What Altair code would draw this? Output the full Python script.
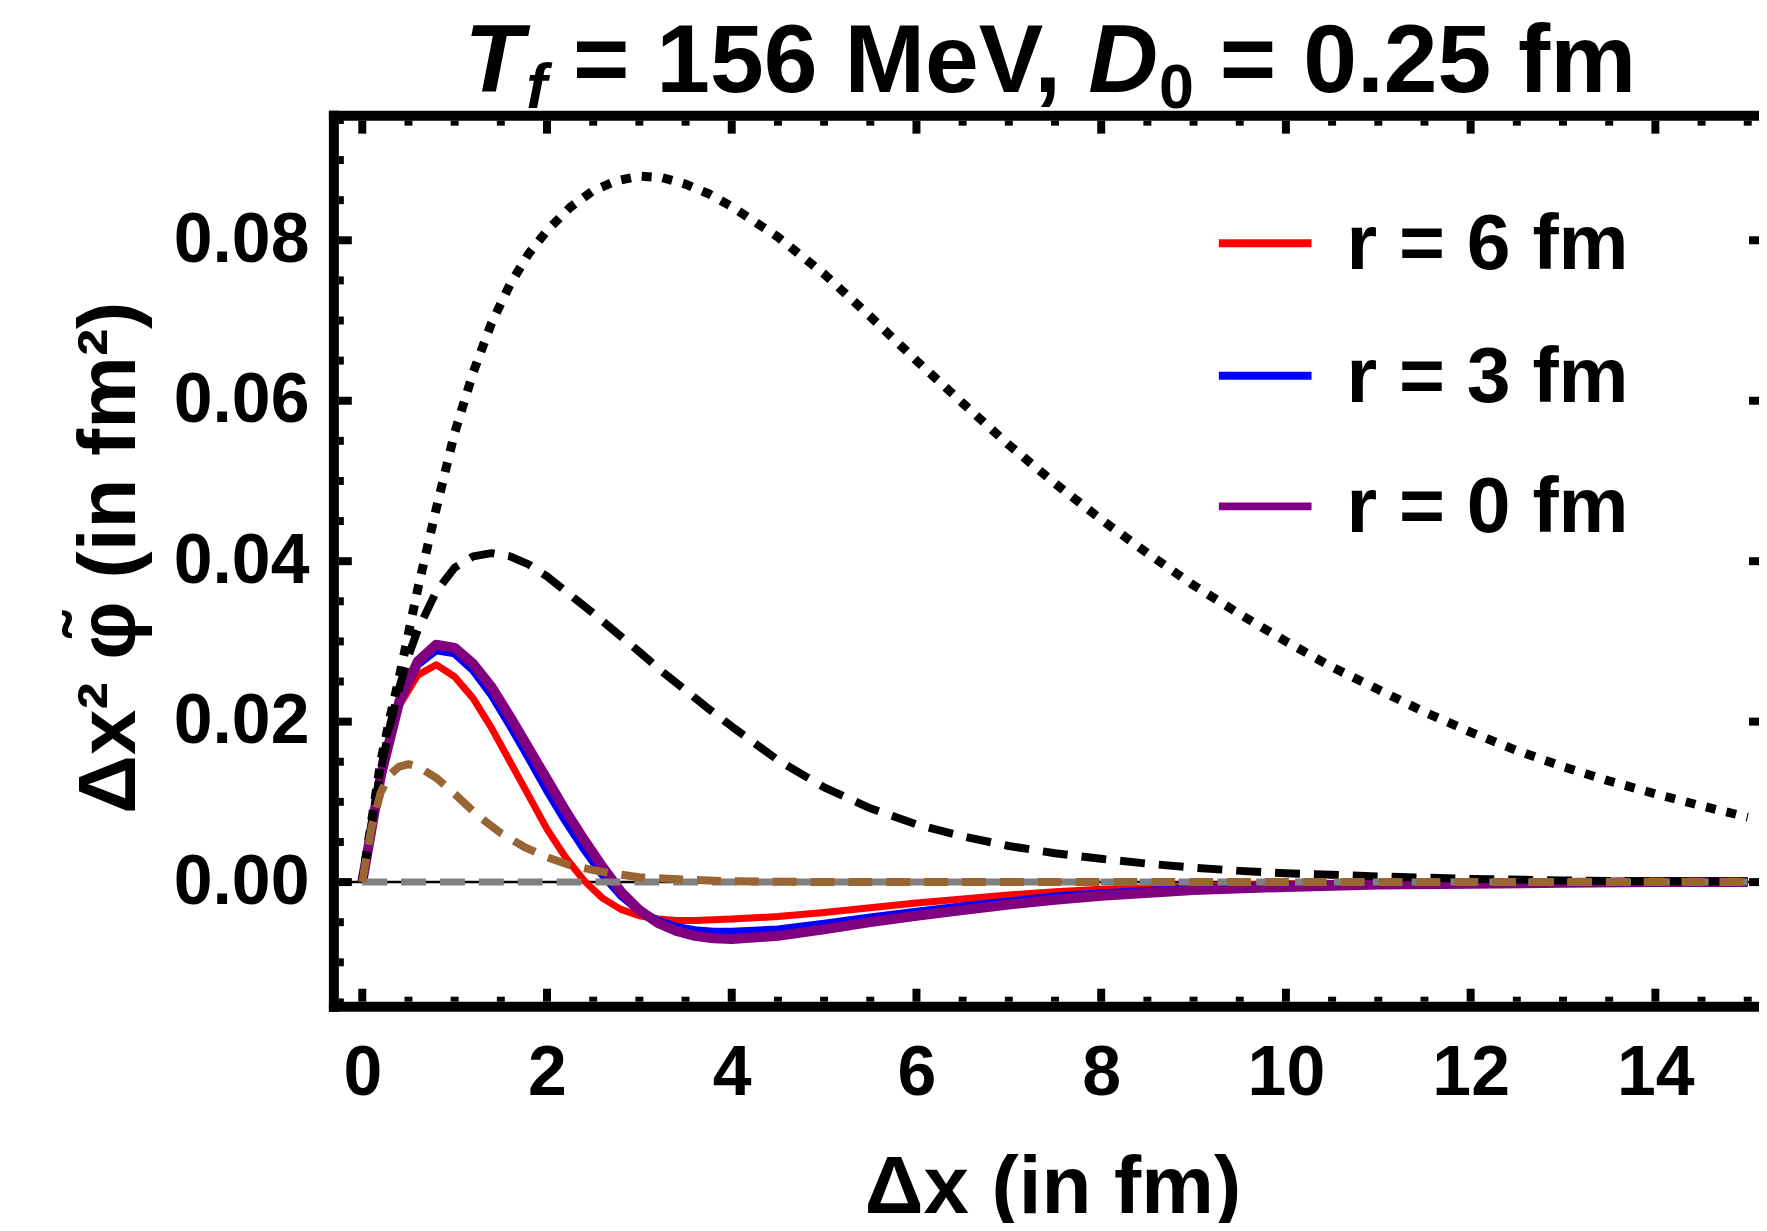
import altair as alt
import pandas as pd

# ---------------- data ----------------
x_col = [0, 0.2, 0.4, 0.6, 0.8, 1.0, 1.2, 1.4, 1.6, 1.8, 2.0, 2.2, 2.4, 2.6, 2.8, 3.0,
         3.2, 3.4, 3.6, 3.8, 4.0, 4.5, 5.0, 5.5, 6.0, 6.5, 7.0, 7.5, 8.0, 9, 10, 11, 12, 13, 14, 15]
y_r6 = [0, .0130, .0220, .0258, .0271, .0256, .0229, .0192, .0150, .0108, .0066, .0031, .0002,
        -.0020, -.0034, -.0042, -.0046, -.0048, -.0048, -.0047, -.0046, -.0043, -.0038, -.0032,
        -.0026, -.0021, -.0016, -.0012, -.0009, -.0005, -.0002, -.0001, 0, 0, 0, 0]
y_r3 = [0, .0132, .0225, .0271, .0289, .0285, .0264, .0233, .0195, .0155, .0114, .0076, .0041,
        .0009, -.0017, -.0036, -.0048, -.0056, -.0060, -.0062, -.0062, -.0059, -.0052, -.0044,
        -.0037, -.0030, -.0024, -.0018, -.0014, -.0008, -.0004, -.0002, -.0001, 0, 0, 0]
y_r0 = [0, .0132, .0225, .0275, .0296, .0292, .0272, .0243, .0206, .0167, .0128, .0089, .0053,
        .0019, -.0012, -.0035, -.0051, -.0061, -.0067, -.0070, -.0071, -.0067, -.0059, -.0050,
        -.0042, -.0035, -.0028, -.0022, -.0017, -.0010, -.0006, -.0003, -.0002, -.0001, 0, 0]

x_dot = [0, .1, .2, .3, .4, .5, .6, .8, 1.0, 1.2, 1.4, 1.6, 1.8, 2.0, 2.25, 2.5, 2.75, 3.0,
         3.25, 3.5, 3.75, 4.0, 4.5, 5.0, 5.5, 6.0, 6.5, 7.0, 7.5, 8.0, 8.5, 9.0, 9.5, 10, 10.5,
         11, 11.5, 12, 12.5, 13, 13.5, 14, 14.5, 15]
y_dot = [0, .0075, .0150, .0205, .0255, .0310, .0365, .0465, .0560, .0635, .0697, .0745, .0783,
         .0812, .0841, .0862, .0874, .0880, .0878, .0870, .0858, .0842, .0804, .0758, .0705,
         .0650, .0597, .0545, .0497, .0452, .0410, .0370, .0334, .0300, .0268, .0240, .0212,
         .0187, .0164, .0144, .0126, .0110, .0095, .0081]

x_dash = [0, .1, .2, .3, .4, .5, .6, .8, 1.0, 1.2, 1.4, 1.6, 1.8, 2.0, 2.25, 2.5, 2.75, 3.0,
          3.25, 3.5, 3.75, 4.0, 4.5, 5.0, 5.5, 6.0, 6.5, 7.0, 7.5, 8.0, 8.5, 9.0, 9.5, 10, 11,
          12, 13, 14, 15]
y_dash = [0, .0072, .0140, .0195, .0242, .0282, .0314, .0362, .0392, .0406, .0410, .0406, .0396,
          .0381, .0358, .0335, .0311, .0287, .0262, .0239, .0216, .0194, .0152, .0118, .0092,
          .0072, .0057, .0045, .0036, .0029, .0023, .0018, .0014, .0011, .0007, .0004, .0002,
          .0001, .00005]

x_brown = [0, .1, .2, .3, .4, .5, .6, .8, 1.0, 1.25, 1.5, 1.75, 2.0, 2.25, 2.5, 2.75, 3.0,
           3.5, 4.0, 5, 6, 8, 10, 12, 15]
y_brown = [0, .0068, .0112, .0134, .0144, .0147, .0144, .0130, .0110, .0083, .0061, .0044,
           .0031, .0021, .0015, .0010, .0006, .0003, .0001, 0, 0, 0, 0, 0, 0]

x_zero = [0, 15]
y_zero = [0, 0]

legend_labels = ["r = 6 fm", "r = 3 fm", "r = 0 fm"]
x_major = [0, 2, 4, 6, 8, 10, 12, 14]
x_minor = [v / 2 for v in range(1, 31) if v % 4 != 0]
y_major = [0.0, 0.02, 0.04, 0.06, 0.08]
y_minor = [v / 1000 for v in range(-15, 100, 5) if v % 20 != 0]

# ---------------- layout ----------------
FONT = "Liberation Sans, Arial, Helvetica, sans-serif"
W, H = 1430, 894
LEFT, TOP = 327, 106
PX_PER_X, X0_PX = 92.68, 28.5
PX_PER_Y, Y0_PX = 8050.0, 769.0
x_dom = [-X0_PX / PX_PER_X, (W - X0_PX) / PX_PER_X]
y_dom = [-(H - Y0_PX) / PX_PER_Y, Y0_PX / PX_PER_Y]

frames = []
for name, xs, ys in [("r6", x_col, y_r6), ("r3", x_col, y_r3), ("r0", x_col, y_r0),
                     ("dot", x_dot, y_dot), ("dash", x_dash, y_dash),
                     ("zero", x_zero, y_zero), ("brown", x_brown, y_brown)]:
    frames.append(pd.DataFrame({"x": xs, "y": ys, "series": name}))
df = pd.concat(frames, ignore_index=True)

x_axis = alt.Axis(values=x_major, format="d", grid=False, ticks=False, tickSize=0, domain=False,
                  labelFont=FONT, labelFontSize=70, labelFontWeight="bold", labelColor="black",
                  labelPadding=33, labelOverlap=False,
                  title="Δx (in fm)", titleFont=FONT, titleFontSize=82, titleFontWeight="bold",
                  titleColor="black", titleX=721, titleY=207, titleAlign="center",
                  titleBaseline="alphabetic")
y_axis = alt.Axis(values=y_major, format=".2f", grid=False, ticks=False, tickSize=0, domain=False,
                  labelFont=FONT, labelFontSize=70, labelFontWeight="bold", labelColor="black",
                  labelPadding=25, labelOverlap=False,
                  title="Δx² φ̃ (in fm²)", titleFont=FONT, titleFontSize=82,
                  titleFontWeight="bold", titleColor="black", titleAngle=270,
                  titleX=-200, titleY=443, titleAlign="center", titleBaseline="alphabetic")

X = alt.X("x:Q", scale=alt.Scale(domain=x_dom, nice=False, zero=False), axis=x_axis)
Y = alt.Y("y:Q", scale=alt.Scale(domain=y_dom, nice=False, zero=False), axis=y_axis)


def line(name, color, width, dash=None):
    kw = dict(color=color, strokeWidth=width, strokeCap="butt", strokeJoin="round")
    if dash:
        kw["strokeDash"] = dash
    return (alt.Chart(df).transform_filter(alt.datum.series == name)
            .mark_line(**kw).encode(x=X, y=Y))


one = pd.DataFrame({"k": [0]})

layers = []
# zero axis line
layers.append(alt.Chart(pd.DataFrame({"y": [0.0]})).mark_rule(color="black", strokeWidth=2.5)
              .encode(y=Y, x=alt.value(0), x2=alt.value(W)))
# curves
layers += [
    line("r6", "#ff0000", 7),
    line("r3", "#0000ff", 8),
    line("r0", "#800080", 10),
    line("dot", "black", 9, [10, 11]),
    line("dash", "black", 8, [25, 14]),
    line("zero", "#808080", 7, [25, 14]),
    line("brown", "#996633", 8, [24, 14]),
]

# frame
layers.append(alt.Chart(one).mark_rule(color="black", strokeWidth=10)
              .encode(x=alt.value(0), y=alt.value(-5), y2=alt.value(H + 5)))
layers.append(alt.Chart(one).mark_rule(color="black", strokeWidth=10)
              .encode(y=alt.value(0), x=alt.value(-5), x2=alt.value(W)))
layers.append(alt.Chart(one).mark_rule(color="black", strokeWidth=10)
              .encode(y=alt.value(H), x=alt.value(-5), x2=alt.value(W)))

# frame ticks
dxM = pd.DataFrame({"x": x_major})
dxm = pd.DataFrame({"x": x_minor})
dyM = pd.DataFrame({"y": y_major})
dym = pd.DataFrame({"y": y_minor})
tick = dict(color="black", strokeWidth=8)
layers += [
    alt.Chart(dxM).mark_rule(**tick).encode(x=X, y=alt.value(5), y2=alt.value(18)),
    alt.Chart(dxm).mark_rule(**tick).encode(x=X, y=alt.value(5), y2=alt.value(10)),
    alt.Chart(dxM).mark_rule(**tick).encode(x=X, y=alt.value(H - 5), y2=alt.value(H - 18)),
    alt.Chart(dxm).mark_rule(**tick).encode(x=X, y=alt.value(H - 5), y2=alt.value(H - 10)),
    alt.Chart(dyM).mark_rule(**tick).encode(y=Y, x=alt.value(5), x2=alt.value(18)),
    alt.Chart(dym).mark_rule(**tick).encode(y=Y, x=alt.value(5), x2=alt.value(10)),
    alt.Chart(dyM).mark_rule(**tick).encode(y=Y, x=alt.value(W - 10), x2=alt.value(W)),
]

# legend (inside plot)
leg_colors = ["#ff0000", "#0000ff", "#800080"]
leg_y = [128, 261, 392]
for lab, col, yy in zip(legend_labels, leg_colors, leg_y):
    layers.append(alt.Chart(one).mark_rule(color=col, strokeWidth=8)
                  .encode(x=alt.value(888), x2=alt.value(981), y=alt.value(yy)))
    layers.append(alt.Chart(one).mark_text(text=lab, font=FONT, fontSize=79, fontWeight="bold",
                                           align="left", baseline="middle", color="black")
                  .encode(x=alt.value(1016), y=alt.value(yy + 2)))

# title pieces (with italics and subscripts)
title_parts = [
    ("T", 466, -24, 97, "italic"),
    ("f", 528, -8, 63, "italic"),
    ("= 156 MeV,", 575, -24, 97, "normal"),
    ("D", 1092, -24, 97, "italic"),
    ("0", 1163, -8, 63, "normal"),
    ("= 0.25 fm", 1224, -24, 97, "normal"),
]
for txt, px, py, fs, st in title_parts:
    layers.append(alt.Chart(one).mark_text(text=txt, font=FONT, fontSize=fs, fontWeight="bold",
                                           fontStyle=st, align="left", baseline="alphabetic",
                                           color="black")
                  .encode(x=alt.value(px - 335), y=alt.value(py)))

chart = (alt.layer(*layers)
         .properties(width=W, height=H,
                     autosize=alt.AutoSizeParams(type="none"),
                     padding={"left": LEFT, "top": TOP, "right": 0, "bottom": 215})
         .configure_view(stroke=None)
         .configure(background="white"))

chart.save("out.html", embed_options={"renderer": "svg", "actions": False})
